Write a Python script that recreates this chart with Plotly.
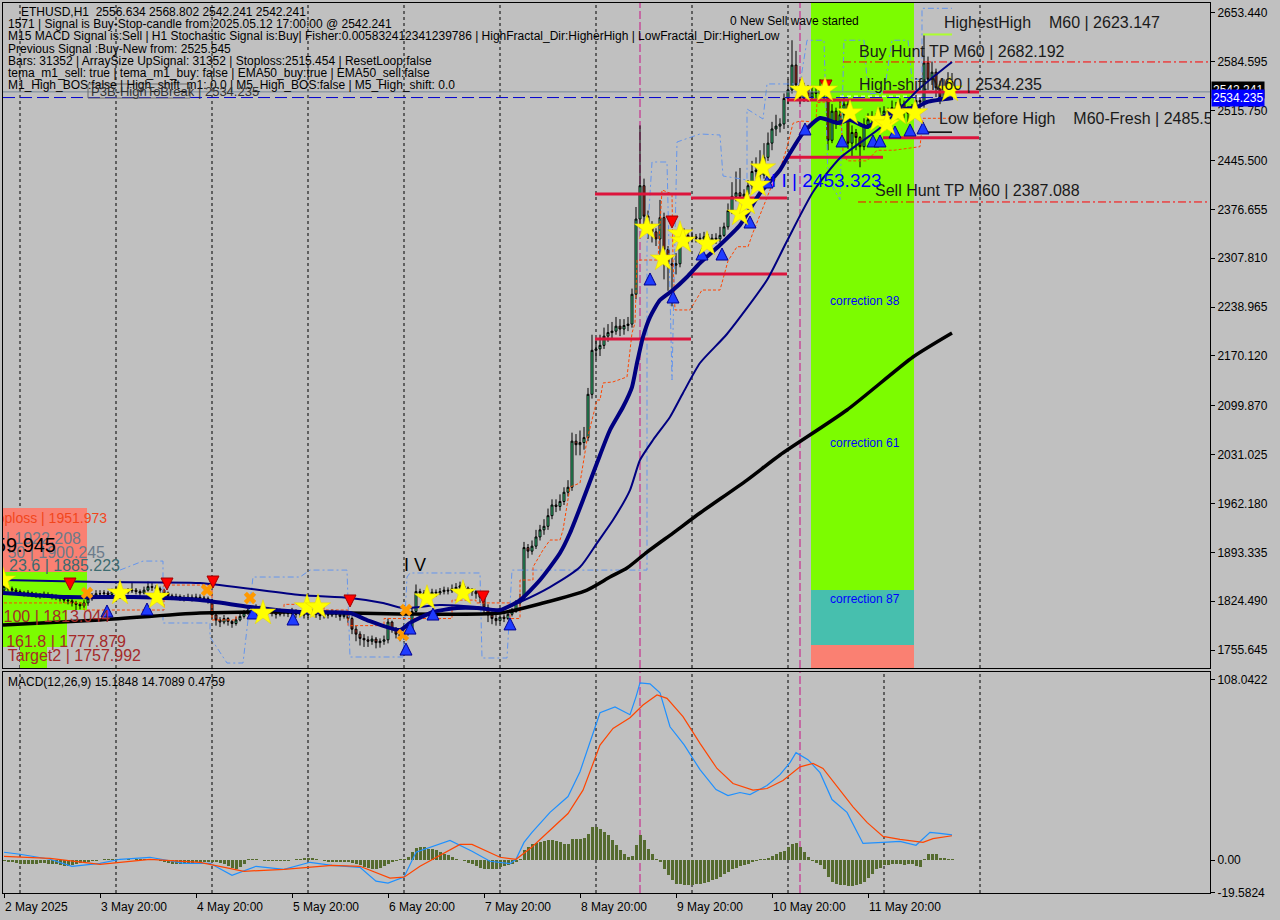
import plotly.graph_objects as go

# ------------------------------------------------------------------ data
# hourly bars, bar 0 = 2 May 2025 20:00
close = [
    1845,1842,1840,1838,1836,1835,1836,1834,1833,1832,1834,1833,1831,1830,1828,1826,1825,1822,1820,1818,1822,1828,1832,1835,
    1835,1836,1834,1838,1840,1838,1837,1839,1840,1838,1836,1840,1845,1844,1842,1840,1836,1832,1830,1831,1829,1828,1830,1829,
    1830,1829,1828,1826,1805,1798,1795,1800,1796,1793,1798,1803,1808,1812,1810,1815,1813,1810,1812,1808,1806,1810,1808,1807,
    1810,1806,1808,1805,1807,1809,1806,1804,1806,1805,1808,1806,1803,1806,1800,1785,1778,1772,1770,1768,1771,1766,1768,1770,
    1795,1785,1778,1775,1780,1782,1810,1838,1836,1835,1834,1837,1836,1838,1840,1839,1842,1844,1846,1843,1840,1838,1835,1830,
    1815,1805,1800,1797,1802,1800,1806,1810,1822,1828,1900,1895,1902,1915,1925,1930,1945,1960,1958,1965,1978,1985,2050,2045,
    2048,2055,2116,2178,2180,2185,2198,2203,2205,2212,2208,2213,2215,2257,2363,2410,2367,2350,2345,2335,2365,2320,2300,2298,
    2300,2333,2340,2335,2338,2336,2335,2338,2332,2336,2335,2340,2352,2375,2395,2400,2395,2398,2410,2430,2432,2425,2450,2470,
    2490,2494,2497,2533,2545,2580,2552,2533,2548,2535,2542,2540,2545,2540,2474,2515,2500,2510,2525,2470,2485,2478,2465,2496,
    2503,2508,2500,2510,2515,2512,2520,2518,2525,2515,2512,2518,2530,2528,2583,2560,2570,2548,2535,2545,2556.634,2542.241,
]
high = [
    1850,1848,1845,1843,1841,1839,1840,1838,1837,1836,1838,1837,1835,1834,1833,1830,1830,1828,1825,1823,1826,1832,1836,1840,
    1840,1840,1839,1842,1846,1844,1841,1843,1850,1843,1841,1845,1852,1850,1847,1845,1842,1838,1835,1835,1834,1833,1835,1834,
    1835,1834,1832,1831,1828,1808,1802,1805,1802,1798,1802,1807,1812,1816,1815,1820,1818,1815,1816,1813,1811,1814,1812,1811,
    1815,1813,1812,1811,1811,1813,1812,1809,1810,1809,1813,1812,1808,1810,1808,1803,1790,1782,1778,1775,1776,1774,1772,1776,
    1800,1797,1788,1782,1784,1788,1815,1848,1842,1840,1839,1842,1841,1843,1845,1844,1848,1850,1852,1849,1845,1843,1840,1837,
    1833,1820,1810,1805,1806,1806,1810,1815,1826,1835,1908,1905,1910,1925,1932,1940,1955,1968,1968,1975,1985,1995,2062,2060,
    2065,2070,2125,2200,2195,2200,2210,2215,2218,2225,2222,2222,2225,2265,2380,2495,2420,2375,2360,2350,2390,2372,2325,2310,
    2315,2345,2350,2345,2345,2342,2343,2345,2342,2342,2343,2352,2358,2385,2415,2430,2435,2405,2418,2445,2450,2460,2470,2485,
    2500,2510,2505,2540,2560,2615,2600,2560,2555,2552,2550,2548,2560,2550,2545,2525,2520,2530,2535,2530,2495,2490,2480,2505,
    2512,2515,2512,2520,2522,2520,2530,2528,2533,2530,2522,2525,2538,2535,2623.147,2592,2585,2575,2558,2560,2570,2568.802,
]
low = [
    1836,1838,1836,1834,1832,1831,1831,1830,1829,1828,1829,1829,1827,1826,1824,1822,1820,1817,1812,1813,1815,1818,1825,1829,
    1830,1831,1830,1832,1835,1834,1833,1834,1836,1834,1831,1834,1838,1839,1838,1835,1832,1827,1826,1827,1825,1824,1825,1824,
    1825,1825,1824,1821,1800,1790,1788,1792,1790,1787,1790,1796,1800,1805,1805,1806,1808,1805,1806,1803,1800,1803,1803,1802,
    1803,1801,1802,1800,1801,1804,1801,1798,1800,1800,1802,1801,1797,1800,1794,1778,1768,1762,1760,1760,1763,1758,1759,1763,
    1765,1780,1772,1768,1770,1776,1780,1806,1830,1830,1829,1831,1831,1833,1834,1834,1836,1839,1840,1838,1835,1832,1828,1822,
    1805,1795,1792,1790,1793,1795,1798,1803,1808,1818,1825,1885,1890,1898,1910,1918,1925,1940,1950,1952,1960,1972,1980,2030,
    2030,2038,2050,2110,2165,2170,2180,2190,2195,2200,2198,2200,2205,2210,2250,2350,2355,2335,2330,2325,2300,2278,2262,2240,
    2285,2295,2328,2328,2330,2330,2328,2330,2326,2328,2328,2330,2338,2348,2370,2388,2385,2388,2392,2405,2420,2415,2420,2445,
    2460,2480,2485,2490,2525,2540,2545,2525,2528,2528,2532,2533,2535,2530,2460,2470,2490,2495,2500,2462,2450,2460,2436,2460,
    2490,2498,2494,2502,2505,2505,2510,2508,2510,2505,2500,2508,2512,2518,2520,2545,2552,2535,2525,2530,2540,2542.241,
]
first_open = 1840.0
bars = list(range(len(close)))

# moving averages (bar index, price)
ema_fast_i = [-0.25,15.75,32.25,49,61.5,74,86.5,90.75,99,101.5,107.25,113.25,118.25,124,129,134,139,141.5,144.75,148.25,
              151.5,154.75,157,158.25,159.75,161.5,164,167.25,170.75,174,179,184,189,194,196.5,199.75,204,208.25,211.5,
              215.75,219.75,224,228.25,230.75,237.25]
ema_fast_p = [1836.0,1830.3,1830.3,1826.1,1816.2,1809.2,1807.8,1797.9,1783.8,1793.7,1809.2,1814.8,1814.8,1812.0,1826.1,
              1854.3,1892.3,1920.5,1967.0,2019.2,2065.7,2098.1,2126.3,2160.1,2196.8,2224.9,2248.9,2263.0,2281.3,2301.1,
              2326.4,2354.6,2399.7,2432.2,2456.1,2484.3,2505.4,2498.4,2502.6,2492.8,2506.9,2516.7,2520.9,2528.0,2533.6]
ema_mid_i = [-0.25,24,49,74,86.5,94.75,99.75,109,118.25,124,129,136.5,144,148.25,152.25,156.5,159,162.25,166.5,169.75,
             174,180.75,190.75,195.75,202.25,209,219,229,237]
ema_mid_p = [1854.3,1851.4,1850.0,1833.1,1828.9,1821.9,1814.8,1819.0,1816.2,1812.0,1823.3,1844.4,1872.6,1906.4,1938.8,
             1981.1,2023.4,2051.6,2084.0,2117.8,2160.1,2201.0,2277.1,2332.1,2401.1,2449.0,2491.3,2547.7,2584.4]
ema_slow_i = [-0.25,24,49,74,99,124,134.75,145.75,151.5,155.75,160.75,167.25,174,185.75,194,210.75,227.25,237]
ema_slow_p = [1790.8,1797.9,1807.8,1809.2,1806.4,1807.8,1821.9,1840.2,1858.5,1871.2,1893.7,1920.5,1948.7,1995.2,2030.5,
              2093.9,2168.6,2202.4]

# trailing stop (orange dashed) and channel (blue dash-dot)
trail_i = [0,20,20,40,40,52,52,58,58,70,70,80,80,86,86,95,95,112,112,118,118,126.5,126.5,129,129,132.25,132.25,134.75,
           136.5,139,139.75,141.5,144,145.75,148.25,149,149.75,152.25,155.75,156.5,157,157.75,158.25,163.5,164.5,167,
           167.25,167.75,171.5,173,174.5,179,181,183.25,186,187.25,189.75,191.5,194,195.75,197.25,199,203,203.25,209,
           209.75,210.75,215.75,218.25,222.5,229,229.75,237]
trail_p = [1822,1822,1812,1812,1847.2,1847.2,1798,1798,1808,1808,1820,1820,1812,1812,1790,1790,1800,1800,1826,1826,1822,
           1822,1800,1800,1854.3,1854.3,1872.6,1896.6,1910.7,1910.7,1924.8,1985.4,1991.0,2051.6,2108.0,2108.0,2132.0,
           2133.5,2140.5,2178.5,2202.4,2216.5,2305.3,2305.3,2404.0,2398.3,2305.0,2234.9,2234.9,2248.9,2263.0,2263.0,
           2304.0,2324.0,2324.0,2344.0,2379.0,2404.0,2433.0,2464.0,2498.0,2501.2,2499.8,2527.0,2530.0,2459.0,2445.0,
           2445.0,2460.0,2460.0,2465.0,2505.0,2505.0]
chan_i = [29,34.75,39.75,39.75,51.5,51.5,55.75,59.75,62.25,74,76.5,85.75,86.5,99.75,100.75,101.5,119,119.5,125.75,127,
          160.75,160.75,162,165.75,167,168.25,174,179,179.75,185.75,185.75,189.75,190.75,199,200.75,205,206,209,210,215,
          216,220,222,226,227,229.5,229.5,237]
chan_p = [1868.3,1881.0,1881.0,1793.7,1793.7,1774.0,1737.3,1737.3,1858.5,1858.5,1868.3,1868.3,1745.8,1745.8,1858.5,
          1864.2,1864.2,1744.4,1744.4,1868.3,1868.3,2329.2,2443.4,2443.4,2136.2,2471.6,2482.9,2481.5,2423.7,2418.1,
          2518.1,2504.0,2553.4,2553.4,2615,2615,2420,2390,2615,2615,2540,2540,2615,2615,2560,2560,2660,2660]

# signal markers
buy_i = [25.75,35.75,62.25,72.25,100.5,101.5,107.25,126.5,161.5,167.25,174.5,179.5,186.5,190.75,200.25,209.5,217.25,
         219,222.75,226.5,229.75]
buy_p = [1819.1,1821.9,1816.3,1807.8,1765.4,1795.0,1814.8,1800.9,2287.0,2261.6,2322.2,2322.2,2367.3,2423.7,2498.4,
         2481.5,2481.5,2481.5,2494.2,2497.0,2499.8]
sell_i = [16.5,40.75,52.25,86.5,119.75,167,205.5]
sell_p = [1840.2,1840.2,1843.0,1816.3,1821.9,2350.4,2542.1]
star_i = [-0.25,29,38.25,64.75,75.75,78.5,105.75,114.75,160.75,164.75,169,169.75,175.75,184,185.75,188.5,189.75,199.5,
          205.25,211.5,218.5,220.75,223.5,227.75,236.5]
star_p = [1854.3,1836.0,1830.3,1807.8,1816.3,1816.3,1829.0,1836.0,2350.4,2306.7,2342.0,2332.1,2327.9,2370.1,2385.6,
          2411.0,2435.0,2544.9,2544.9,2512.5,2502.6,2497.0,2512.5,2512.5,2544.9]
cross_i = [20.75,50.75,61.5,100.5,99.75]
cross_p = [1836.0,1840.2,1829.0,1812.0,1776.8]

# daily high/low levels (start bar, end bar, price)
levels = [(147.75,171.75,2398.3),(147.75,171.75,2193.9),(171.75,195.75,2392.7),(171.75,195.75,2285.6),
          (195.75,219.75,2530.8),(195.75,219.75,2450.0),(219.75,243.75,2542.1),(219.75,243.75,2477.7)]
bid_price = 2542.241
high_shift = 2534.235
buy_hunt = 2584.4
sell_hunt = 2387.088
highest_high = 2623.147
low_before_high = 2485.5

# zones (bar0, bar1, price0, price1, colour)
zones = [
    (201.75, 227.5, 1840.2, 2667.5, "#7cfc00"),
    (201.75, 227.5, 1762.7, 1840.2, "#47bfae"),
    (201.75, 227.5, 1730.3, 1762.7, "#fa8072"),
    (-0.25, 20.75, 1865.5, 1955.7, "#fa8072"),
    (-0.25, 20.75, 1812.0, 1865.5, "#7cfc00"),
    (-0.25, 15.75, 1760.0, 1812.0, "#7cfc00"),
    (4.0, 10.75, 1730.3, 1760.0, "#7cfc00"),
]

# MACD (12,26,9)
macd_i = [0,4,11.5,17,24,29,36.5,45,51.5,57,63,70,76.5,82,89,93,96,100,103,111.5,117,121.5,126.5,128,130,132,136.5,141,
          144,146.5,149,152.75,156.5,158,159,161.5,164,166.5,170,174,178,181,184,186.5,190.75,194,196.5,198,201,204,207,
          210.75,214.75,219.75,224,228,231.5,234,237]
macd_v = [4.8,3.6,0.6,-3.6,-1.8,0.6,1.8,-1.8,-1.8,-9,-3.6,-5.4,-1.2,-3,-4.2,-12.5,-13.7,-10.1,4.8,11.9,5.4,-0.6,-2,0.6,
          10.7,16.7,28.7,38.2,53.1,70.4,88.4,91.9,87.2,97.9,106.3,105.7,100.3,80,69.3,54.3,42.4,38.8,40.6,39.4,44.8,51.3,
          58.5,64.5,60.3,52.5,36.4,28.7,10.1,10.7,11.3,9,16.7,16.1,15.1848]
sig_i = [0,11.5,24,36.5,49,60,70,82,89,96.5,100,104,114,117,124,128,132,136.5,141,144.75,149,152.25,156.5,159.75,163.25,
         165.75,169.75,174,178.25,182.25,187.25,190.75,194.75,199,202.25,204.75,208.25,212.25,215.75,219.75,224,229.75,
         232.25,237]
sig_v = [2.4,1.2,-2.4,0.6,-1.2,-6.6,-5.4,-3,-3.6,-10.7,-10.1,-3.6,9.5,9.5,1.8,0.6,8,18,28,42,69,79,85.4,93,99,97,86,70,
         55,46,42,43,47.8,56,58,55,44,32,22.7,14.3,12.5,10.7,13,14.7089]
hist = [
    -0.5,-1,-1,-1.5,-2,-2.5,-2.5,-2,-2,-1.5,-1.5,-2,-2,-2.5,-3,-3.5,-3.5,-3,-2.5,-1.5,-1,-1,-0.5,-0.5,
    0.3,0.8,1,0.8,0.5,0.3,0.3,0.5,0.3,0.5,0.8,1,0.8,0.5,0.2,-0.3,-0.8,-1.5,-2,-2,-2.5,-2,-1.8,-1.5,
    -1.2,-1,-1,-0.8,-1,-1.2,-1.5,-2.5,-3.5,-4.5,-5,-4,-2,0.5,1,1,0.3,-0.5,-0.6,-0.6,-0.6,-0.6,-0.5,-0.3,
    0.3,0.8,1,1.2,1.5,1.2,0.8,0.3,-0.5,-0.8,-1,-1,-1.2,-1,-1.2,-1.5,-2,-3,-4,-4.5,-5,-5,-4.5,-3.5,
    -2,-1,-0.5,0.5,1,2,5,7.5,8,8,7,6.5,6,5,4,3,2,1,0.3,-0.5,-1.5,-2.5,-3.5,-4.5,
    -5,-5.5,-5.5,-5,-4,-3.5,-3,-2,-1,1,6,8,9.5,10.5,11,11.5,12,12,11.5,11,10,9.5,13,13,
    13,13.5,16,20,20,19,17,15,12,9,6,4,2,2.5,9,15,12,7,3.5,1,-1,-5,-9,-12,
    -14,-14.5,-15,-15,-15,-14.5,-14,-13.5,-13,-12,-11,-10,-8.5,-7,-5.5,-4.5,-3.5,-3,-2,-1,-0.5,0.5,0.8,1.5,
    2.5,4,5,5.5,8,10,10.5,8,5,2,-0.5,-1.5,-3,-5.5,-10,-13,-14,-15,-15,-15.5,-15.5,-15,-14,-13,
    -10.5,-8,-5,-4.5,-3,-3,-2.5,-2,-2.5,-3,-2.5,-2.5,-3.5,-4,0.5,3.5,3.5,3.5,1.5,1.2,1,0.4759,
]

# axis labels
time_tick_bars = [0,24,48,72,96,120,144,168,192,216]
time_labels = ["2 May 2025","3 May 20:00","4 May 20:00","5 May 20:00","6 May 20:00","7 May 20:00",
               "8 May 20:00","9 May 20:00","10 May 20:00","11 May 20:00"]
price_ticks = [2653.440,2584.595,2515.750,2445.500,2376.655,2307.810,2238.965,2170.120,2099.870,2031.025,
               1962.180,1893.335,1824.490,1755.645]
macd_ticks = [108.0422, 0.0, -19.5824]
macd_tick_text = ["108.0422", "0.00", "-19.5824"]
midnight_bars = [4 + 24 * k for k in range(11)]
signal_bars = [159, 199]

header_lines = [
    "ETHUSD,H1  2556.634 2568.802 2542.241 2542.241",
    "1571 | Signal is Buy-Stop-candle from:2025.05.12 17:00:00 @ 2542.241",
    "M15 MACD Signal is:Sell | H1 Stochastic Signal is:Buy| Fisher:0.005832412341239786 | HighFractal_Dir:HigherHigh | LowFractal_Dir:HigherLow",
    "Previous Signal :Buy-New from: 2525.545",
    "Bars: 31352 | ArraySize UpSignal: 31352 | Stoploss:2515.454 | ResetLoop:false",
    "tema_m1_sell: true | tema_m1_buy: false | EMA50_buy:true | EMA50_sell:false",
    "M1_High_BOS:false | High_shift_m1: 0.0 | M5_High_BOS:false | M5_High_shift: 0.0",
]

# ------------------------------------------------------------------ layout geometry
FONT = "Liberation Sans, Arial, sans-serif"
W, H = 1280, 920
ML, MR, MT, MB = 3, 70, 3, 27
PW, PH = W - ML - MR, H - MT - MB
X_RANGE = [-0.25, 301.5]
P_RANGE = [1730.3, 2667.5]
M_RANGE = [-19.6, 112.8]
PRICE_DOM = [(H - MB - 668) / PH, 1.0]
MACD_DOM = [0.0, (H - MB - 672) / PH]
BG = "#c0c0c0"


def px(xpix):
    return (xpix - ML) / PW


def py(ypix):
    return (H - MB - ypix) / PH


def bar_at(xpix):
    return X_RANGE[0] + (xpix - ML) / PW * (X_RANGE[1] - X_RANGE[0])


def price_at(ypix):
    top = MT
    bottom = 668
    return P_RANGE[1] - (ypix - top) / (bottom - top) * (P_RANGE[1] - P_RANGE[0])


opens = [first_open] + close[:-1]

fig = go.Figure()

# ------------------------------------------------------------------ zones & grid (shapes)
shapes = []
for b0, b1, p0, p1, col in zones:
    shapes.append(dict(type="rect", xref="x", yref="y", x0=b0, x1=b1, y0=p0, y1=p1,
                       fillcolor=col, line=dict(width=0), layer="below"))
for b in midnight_bars:
    for yr in ("y", "y2"):
        shapes.append(dict(type="line", xref="x", yref=yr + " domain", x0=b, x1=b, y0=0, y1=1,
                           line=dict(color="black", width=1, dash="3px,3px"), layer="below"))
for b in signal_bars:
    for yr in ("y", "y2"):
        shapes.append(dict(type="line", xref="x", yref=yr + " domain", x0=b, x1=b, y0=0, y1=1,
                           line=dict(color="#c71585", width=1, dash="8px,3px"), layer="below"))
# P3B box
shapes.append(dict(type="rect", xref="paper", yref="paper", x0=px(88), x1=px(190), y0=py(98), y1=py(84),
                   line=dict(color="#6a6a6a", width=1)))

# ------------------------------------------------------------------ price pane traces
def hline(b0, b1, p, color, width, dash="solid"):
    fig.add_trace(go.Scatter(x=[b0, b1], y=[p, p], mode="lines", xaxis="x", yaxis="y",
                             line=dict(color=color, width=width, dash=dash),
                             hoverinfo="skip", showlegend=False))


fig.add_trace(go.Scatter(x=chan_i, y=chan_p, mode="lines", xaxis="x", yaxis="y",
                         line=dict(color="#6495ed", width=1, dash="6px,3px,2px,3px"),
                         hoverinfo="skip", showlegend=False))
fig.add_trace(go.Scatter(x=trail_i, y=trail_p, mode="lines", xaxis="x", yaxis="y",
                         line=dict(color="#ff4500", width=1, dash="3px,2px"),
                         hoverinfo="skip", showlegend=False))

hline(X_RANGE[0], X_RANGE[1], bid_price, "#778899", 1)
hline(X_RANGE[0], X_RANGE[1], high_shift, "#0000cd", 1, "12px,5px")
hline(bar_at(843), X_RANGE[1], buy_hunt, "#ff0000", 1, "8px,3px,2px,3px")
hline(bar_at(858), X_RANGE[1], sell_hunt, "#ff0000", 1, "8px,3px,2px,3px")
hline(bar_at(840), bar_at(923), high_shift + 2, "white", 1, "4px,3px")

fig.add_trace(go.Candlestick(
    x=bars, open=opens, high=high, low=low, close=close, xaxis="x", yaxis="y",
    increasing=dict(line=dict(color="black", width=1), fillcolor="#3ee08f"),
    decreasing=dict(line=dict(color="black", width=1), fillcolor="#c0392b"),
    whiskerwidth=0, hoverinfo="skip", showlegend=False))

lv_x, lv_y = [], []
for b0, b1, p in levels:
    lv_x += [b0, b1, None]
    lv_y += [p, p, None]
fig.add_trace(go.Scatter(x=lv_x, y=lv_y, mode="lines", xaxis="x", yaxis="y",
                         line=dict(color="#dc143c", width=3), hoverinfo="skip", showlegend=False))
hline(bar_at(923), bar_at(952), highest_high, "#adff2f", 2)
hline(bar_at(920), bar_at(952), low_before_high, "black", 1.5)

fig.add_trace(go.Scatter(x=ema_slow_i, y=ema_slow_p, mode="lines", xaxis="x", yaxis="y",
                         line=dict(color="black", width=3.5, shape="spline", smoothing=0.6),
                         hoverinfo="skip", showlegend=False))
fig.add_trace(go.Scatter(x=ema_mid_i, y=ema_mid_p, mode="lines", xaxis="x", yaxis="y",
                         line=dict(color="#000080", width=2, shape="spline", smoothing=0.6),
                         hoverinfo="skip", showlegend=False))
fig.add_trace(go.Scatter(x=ema_fast_i, y=ema_fast_p, mode="lines", xaxis="x", yaxis="y",
                         line=dict(color="#000080", width=4, shape="spline", smoothing=0.6),
                         hoverinfo="skip", showlegend=False))

fig.add_trace(go.Scatter(x=cross_i, y=cross_p, mode="markers", xaxis="x", yaxis="y",
                         marker=dict(symbol="x", size=11, color="#ff9900", line=dict(width=0)),
                         hoverinfo="skip", showlegend=False))
fig.add_trace(go.Scatter(x=buy_i, y=buy_p, mode="markers", xaxis="x", yaxis="y",
                         marker=dict(symbol="arrow-up", size=12, color="#1e3cff",
                                     line=dict(color="#000090", width=1)),
                         hoverinfo="skip", showlegend=False))
fig.add_trace(go.Scatter(x=sell_i, y=sell_p, mode="markers", xaxis="x", yaxis="y",
                         marker=dict(symbol="arrow-down", size=12, color="#ff0000",
                                     line=dict(color="#a00000", width=1)),
                         hoverinfo="skip", showlegend=False))
fig.add_trace(go.Scatter(x=star_i, y=star_p, mode="markers", xaxis="x", yaxis="y",
                         marker=dict(symbol="star", size=19, color="#ffff00",
                                     line=dict(color="#e6d200", width=0.5)),
                         hoverinfo="skip", showlegend=False))


# clipped texts (cut at the plot border like the original)
def clip_text(text, xpix, ypix, color, size, anchor):
    fig.add_trace(go.Scatter(x=[bar_at(xpix)], y=[price_at(ypix)], mode="text", text=[text],
                             textposition=anchor, xaxis="x", yaxis="y", cliponaxis=True,
                             textfont=dict(family=FONT, size=size, color=color),
                             hoverinfo="skip", showlegend=False))


clip_text("Stoploss | 1951.973", 107, 519, "#f2461c", 14, "middle left")
clip_text("38.2 | 1922.208", 81, 540, "#6c7b8b", 16, "middle left")
clip_text("50 | 1900.245", 105, 554, "#6c7b8b", 16, "middle left")
clip_text("1859.945", 56, 547, "black", 20, "middle left")
clip_text("23.6 | 1885.223", 120, 567, "#3d6b70", 16, "middle left")
clip_text("100 | 1813.044", 110, 618, "#a52a2a", 16, "middle left")
clip_text("161.8 | 1777.879", 126, 643, "#a52a2a", 16, "middle left")
clip_text("Target2 | 1757.992", 141, 657, "#a52a2a", 16, "middle left")
clip_text("Low before High\u00a0\u00a0\u00a0\u00a0M60-Fresh | 2485.532", 939, 120, "#1a1a1a", 16, "middle right")

# ------------------------------------------------------------------ MACD pane
fig.add_trace(go.Bar(x=bars, y=hist, xaxis="x2", yaxis="y2", marker=dict(color="#556b2f", line=dict(width=0)),
                     width=0.75, hoverinfo="skip", showlegend=False))
fig.add_trace(go.Scatter(x=macd_i, y=macd_v, mode="lines", xaxis="x2", yaxis="y2",
                         line=dict(color="#1e90ff", width=1.2), hoverinfo="skip", showlegend=False))
fig.add_trace(go.Scatter(x=sig_i, y=sig_v, mode="lines", xaxis="x2", yaxis="y2",
                         line=dict(color="#ff4500", width=1.2), hoverinfo="skip", showlegend=False))

# ------------------------------------------------------------------ annotations
ann = []


def note(text, xpix, ypix, size=12, color="black", xanchor="left", bg=None, weight="normal"):
    d = dict(text=text, xref="paper", yref="paper", x=px(xpix), y=py(ypix), xanchor=xanchor,
             yanchor="middle", showarrow=False, font=dict(family=FONT, size=size, color=color, weight=weight))
    if bg:
        d.update(bgcolor=bg, borderpad=0)
    ann.append(d)


for k, line in enumerate(header_lines):
    note(line, 19 if k == 0 else 6, 12 + 12.2 * k, 12)
note("P3B-HighToBreak | 2534.235", 89, 91, 13, "#333333")
note("0 New Sell wave started", 728, 21, 12)
note("HighestHigh\u00a0\u00a0\u00a0\u00a0M60 | 2623.147", 942, 22, 16, "#1a1a1a")
note("Buy Hunt TP M60 | 2682.192", 857, 51, 16, "#1a1a1a")
note("High-shift M60 | 2534.235", 857, 85, 16, "#1a1a1a")
note("Sell Hunt TP M60 | 2387.088", 873, 190, 16, "#1a1a1a")
note("I I | 2453.323", 769, 181, 19, "#0000ff")
note("correction 38", 828, 301, 12, "#0000ff")
note("correction 61", 828, 443, 12, "#0000ff")
note("correction 87", 828, 599, 12, "#0000ff")
note("I V", 402, 565, 18, "black")
note("MACD(12,26,9) 15.1848 14.7089 0.4759", 6, 682, 12)

# current price labels on the axis
ann.append(dict(text="2542.241", xref="paper", yref="y", x=1.0, y=bid_price + 3, xanchor="left", yanchor="middle",
                xshift=1, showarrow=False, bgcolor="black", borderpad=1,
                font=dict(family=FONT, size=12, color="white")))
ann.append(dict(text="2534.235", xref="paper", yref="y", x=1.0, y=high_shift - 1, xanchor="left", yanchor="middle",
                xshift=1, showarrow=False, bgcolor="#0000ff", borderpad=1,
                font=dict(family=FONT, size=12, color="white")))

# time labels (left aligned like the terminal)
for b, lab in zip(time_tick_bars, time_labels):
    ann.append(dict(text=lab, xref="x2", yref="paper", x=b, y=py(907), xanchor="left", yanchor="middle",
                    xshift=-1, showarrow=False, font=dict(family=FONT, size=12, color="black")))

axis_common = dict(showgrid=False, zeroline=False, showline=True, linecolor="black", linewidth=1, mirror=True)

fig.update_layout(
    width=W, height=H,
    margin=dict(l=ML, r=MR, t=MT, b=MB),
    paper_bgcolor=BG, plot_bgcolor=BG,
    font=dict(family=FONT, size=12, color="black"),
    showlegend=False, bargap=0, hovermode=False,
    xaxis=dict(domain=[0, 1], range=X_RANGE, anchor="y", showticklabels=False, ticks="",
               rangeslider=dict(visible=False), **axis_common),
    yaxis=dict(domain=PRICE_DOM, range=P_RANGE, anchor="x", side="right", tickvals=price_ticks,
               ticktext=[f"{v:.3f}" for v in price_ticks], ticks="outside", ticklen=4, tickcolor="black",
               tickfont=dict(family=FONT, size=12), **axis_common),
    xaxis2=dict(domain=[0, 1], range=X_RANGE, anchor="y2", matches="x", showticklabels=False,
                tickvals=time_tick_bars, ticks="outside", ticklen=4, tickcolor="black", **axis_common),
    yaxis2=dict(domain=MACD_DOM, range=M_RANGE, anchor="x2", side="right", tickvals=macd_ticks,
                ticktext=macd_tick_text, ticks="outside", ticklen=4, tickcolor="black",
                tickfont=dict(family=FONT, size=12), **axis_common),
    shapes=shapes,
    annotations=ann,
)

fig.write_html(
    "out.html",
    config={"displayModeBar": False, "staticPlot": True},
    post_script="document.body.style.margin='0';document.body.style.padding='0';"
                "document.body.style.background='#c0c0c0';",
)
